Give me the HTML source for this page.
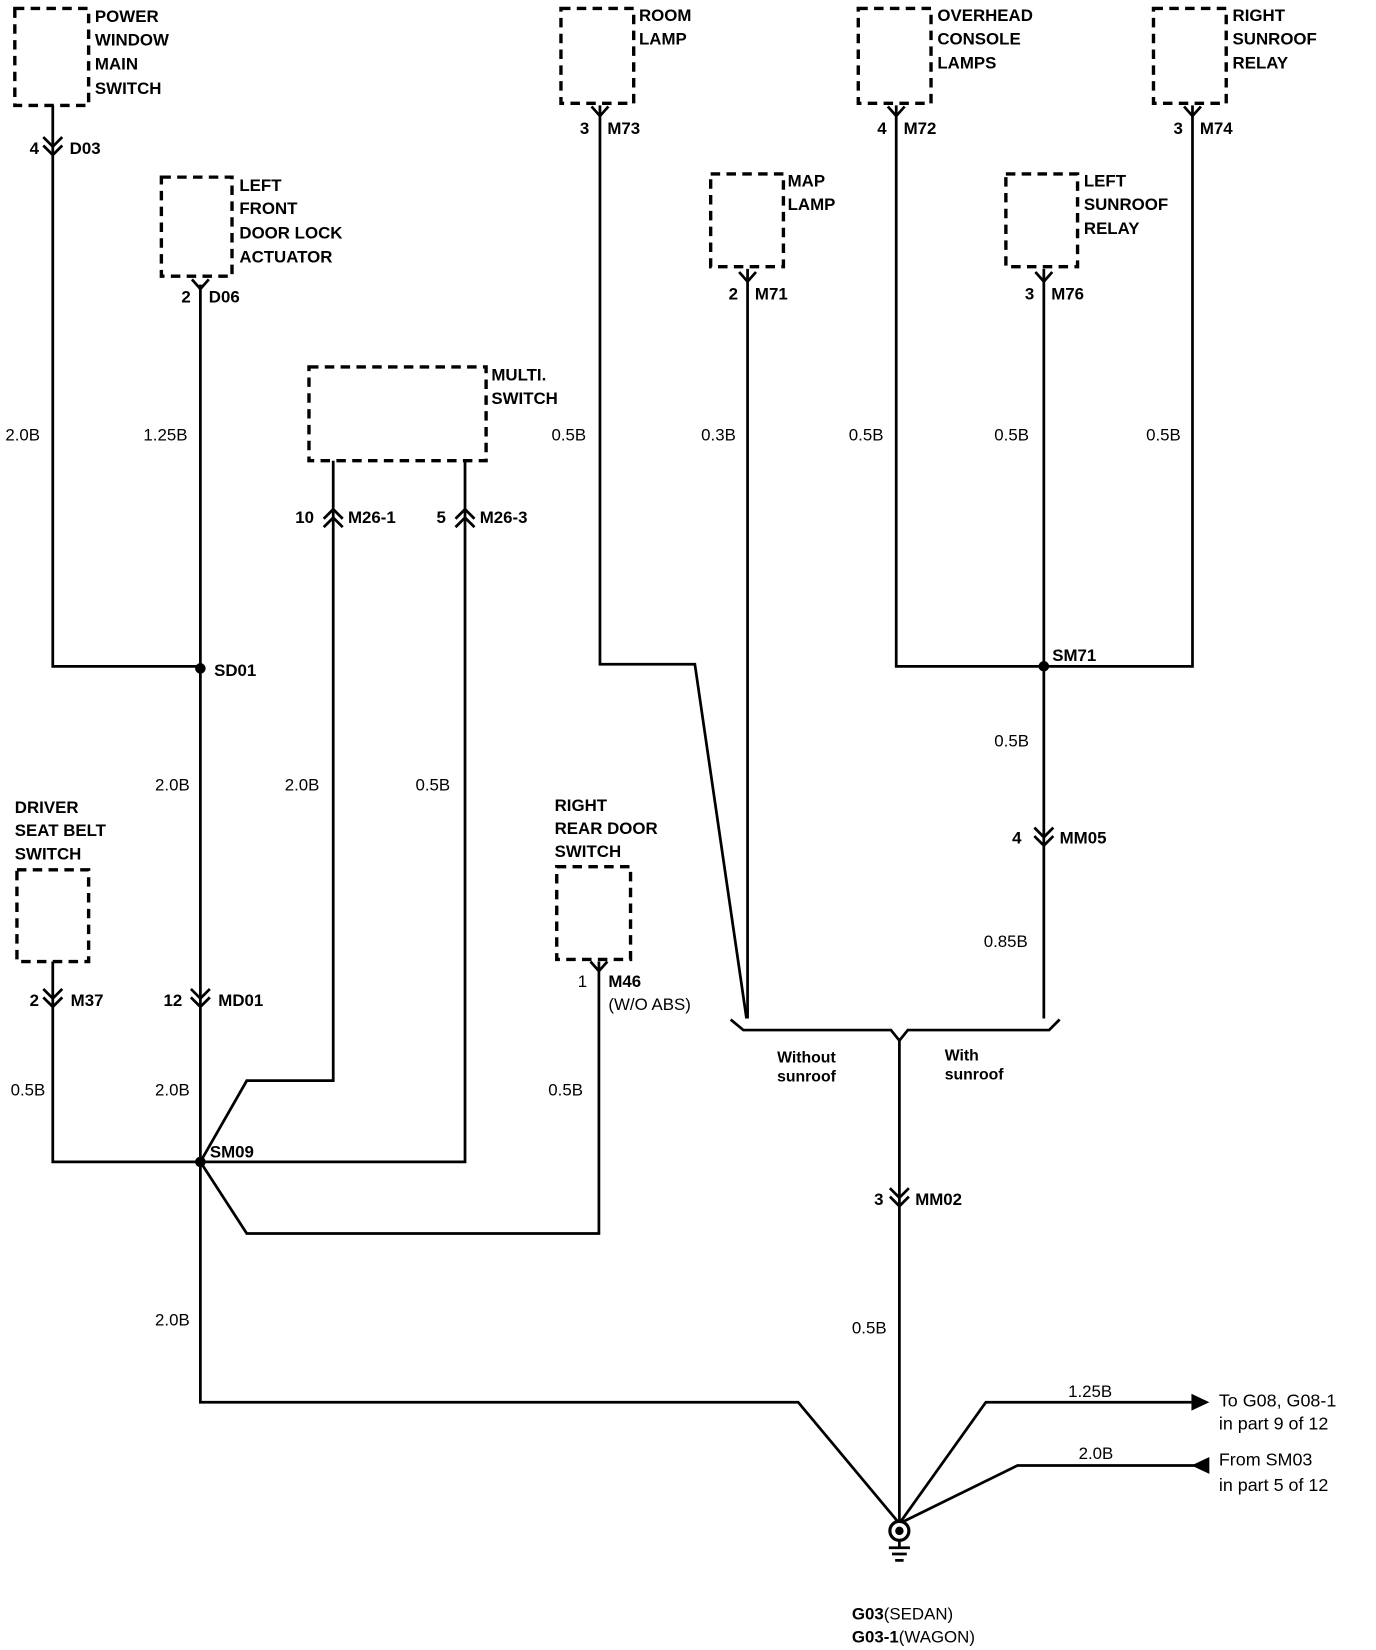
<!DOCTYPE html>
<html><head><meta charset="utf-8"><style>
html,body{margin:0;padding:0;background:#fff;}
svg{display:block;}
text{font-family:"Liberation Sans",Arial,sans-serif;font-size:16px;font-weight:bold;fill:#000;}
.r{font-weight:normal;}
.w{fill:none;stroke:#000;stroke-width:2.6;}
.b{fill:none;stroke:#000;stroke-width:3.2;stroke-dasharray:9 6;}
</style></head><body>
<svg width="1376" height="1650" viewBox="0 0 1305 1565" xmlns="http://www.w3.org/2000/svg">
<defs>
<g id="dd"><path d="M-9,-10 L0,-1 L9,-10 M-9,-2 L0,7 L9,-2" class="w"/></g>
<g id="du"><path d="M-9,10 L0,1 L9,10 M-9,2 L0,-7 L9,2" class="w"/></g>
<g id="y"><path d="M-8,-7 L0,2 L8,-7" class="w"/></g>
</defs>
<rect x="14" y="8" width="70" height="92" class="b"/>
<rect x="153" y="168" width="67" height="94" class="b"/>
<rect x="293" y="348" width="168" height="89" class="b"/>
<rect x="532" y="8" width="69" height="90" class="b"/>
<rect x="674" y="165" width="69" height="88" class="b"/>
<rect x="814" y="8" width="69" height="90" class="b"/>
<rect x="954" y="165" width="68" height="88" class="b"/>
<rect x="1094" y="8" width="69" height="90" class="b"/>
<rect x="16" y="825" width="68" height="87" class="b"/>
<rect x="528" y="822" width="70" height="88" class="b"/>
<text x="90" y="21">POWER</text><text x="90" y="43">WINDOW</text><text x="90" y="66">MAIN</text><text x="90" y="89">SWITCH</text>
<text x="227" y="181">LEFT</text><text x="227" y="203">FRONT</text><text x="227" y="226">DOOR LOCK</text><text x="227" y="249">ACTUATOR</text>
<text x="466" y="361">MULTI.</text><text x="466" y="383">SWITCH</text>
<text x="606" y="20">ROOM</text><text x="606" y="42">LAMP</text>
<text x="747" y="177">MAP</text><text x="747" y="199">LAMP</text>
<text x="889" y="20">OVERHEAD</text><text x="889" y="42">CONSOLE</text><text x="889" y="65">LAMPS</text>
<text x="1028" y="177">LEFT</text><text x="1028" y="199">SUNROOF</text><text x="1028" y="222">RELAY</text>
<text x="1169" y="20">RIGHT</text><text x="1169" y="42">SUNROOF</text><text x="1169" y="65">RELAY</text>
<text x="14" y="771">DRIVER</text><text x="14" y="793">SEAT BELT</text><text x="14" y="815">SWITCH</text>
<text x="526" y="769">RIGHT</text><text x="526" y="791">REAR DOOR</text><text x="526" y="813">SWITCH</text>
<path class="w" d="M50,100 V632 H190"/>
<path class="w" d="M190,270 V1330 H757 L853,1445"/>
<path class="w" d="M50,912 V1102 H190"/>
<path class="w" d="M316,437 V1025 H234 L190,1102 H441 V437"/>
<path class="w" d="M568,912 V1170 H234 L190,1102"/>
<path class="w" d="M569,100 V630 H659 L708,966"/>
<path class="w" d="M709,255 V966"/>
<path class="w" d="M850,100 V632 H1131 V100"/>
<path class="w" d="M990,255 V966"/>
<path class="w" d="M693,967 L705,977 H845 L853,987 L861,977 H995 L1005,967"/>
<path class="w" d="M853,987 V1445"/>
<path class="w" d="M853,1445 L935,1330 H1130"/>
<path class="w" d="M853,1445 L965,1390 H1140"/>
<path d="M1130,1322 L1147,1330 L1130,1338 Z"/>
<path d="M1147,1382 L1130,1390 L1147,1398 Z"/>
<circle cx="190" cy="634" r="5"/><circle cx="190" cy="1102" r="5"/><circle cx="990" cy="632" r="5"/>
<circle cx="853" cy="1452" r="9" fill="#fff" stroke="#000" stroke-width="3"/>
<circle cx="853" cy="1452" r="4"/>
<path class="w" d="M853,1461 V1468 M843,1468 H863 M846,1474 H860 M849,1480 H857"/>
<text x="808" y="1536">G03<tspan class="r">(SEDAN)</tspan></text>
<text x="808" y="1558">G03-1<tspan class="r">(WAGON)</tspan></text>
<use href="#dd" x="50" y="140"/><text x="28" y="146">4</text><text x="66" y="146">D03</text>
<use href="#y" x="190" y="272"/><text x="172" y="287">2</text><text x="198" y="287">D06</text>
<use href="#du" x="316" y="490"/><text x="280" y="496">10</text><text x="330" y="496">M26-1</text>
<use href="#du" x="441" y="490"/><text x="414" y="496">5</text><text x="455" y="496">M26-3</text>
<use href="#y" x="569" y="108"/><text x="550" y="127">3</text><text x="576" y="127">M73</text>
<use href="#y" x="709" y="265"/><text x="691" y="284">2</text><text x="716" y="284">M71</text>
<use href="#y" x="850" y="108"/><text x="832" y="127">4</text><text x="857" y="127">M72</text>
<use href="#y" x="990" y="265"/><text x="972" y="284">3</text><text x="997" y="284">M76</text>
<use href="#y" x="1131" y="108"/><text x="1113" y="127">3</text><text x="1138" y="127">M74</text>
<use href="#dd" x="990" y="795"/><text x="960" y="800">4</text><text x="1005" y="800">MM05</text>
<use href="#dd" x="50" y="948"/><text x="28" y="954">2</text><text x="67" y="954">M37</text>
<use href="#dd" x="190" y="948"/><text x="155" y="954">12</text><text x="207" y="954">MD01</text>
<use href="#y" x="568" y="919"/><text x="548" y="936" class="r">1</text><text x="577" y="936">M46</text><text x="577" y="958" class="r">(W/O ABS)</text>
<use href="#dd" x="853" y="1137"/><text x="829" y="1143">3</text><text x="868" y="1143">MM02</text>
<text x="203" y="641">SD01</text><text x="199" y="1098">SM09</text><text x="998" y="627">SM71</text>
<text x="5" y="418" class="r">2.0B</text><text x="136" y="418" class="r">1.25B</text><text x="523" y="418" class="r">0.5B</text>
<text x="665" y="418" class="r">0.3B</text><text x="805" y="418" class="r">0.5B</text><text x="943" y="418" class="r">0.5B</text>
<text x="1087" y="418" class="r">0.5B</text><text x="147" y="750" class="r">2.0B</text><text x="270" y="750" class="r">2.0B</text>
<text x="394" y="750" class="r">0.5B</text><text x="943" y="708" class="r">0.5B</text><text x="933" y="898" class="r">0.85B</text>
<text x="10" y="1039" class="r">0.5B</text><text x="147" y="1039" class="r">2.0B</text><text x="520" y="1039" class="r">0.5B</text>
<text x="147" y="1257" class="r">2.0B</text><text x="808" y="1265" class="r">0.5B</text>
<text x="1013" y="1325" class="r">1.25B</text><text x="1023" y="1384" class="r">2.0B</text>
<text x="737" y="1008" style="font-size:15px">Without</text><text x="737" y="1026" style="font-size:15px">sunroof</text>
<text x="896" y="1006" style="font-size:15px">With</text><text x="896" y="1024" style="font-size:15px">sunroof</text>
<text x="1156" y="1334" class="r" style="font-size:17px">To G08, G08-1</text>
<text x="1156" y="1356" class="r" style="font-size:17px">in part 9 of 12</text>
<text x="1156" y="1390" class="r" style="font-size:17px">From SM03</text>
<text x="1156" y="1414" class="r" style="font-size:17px">in part 5 of 12</text>
</svg>
</body></html>
